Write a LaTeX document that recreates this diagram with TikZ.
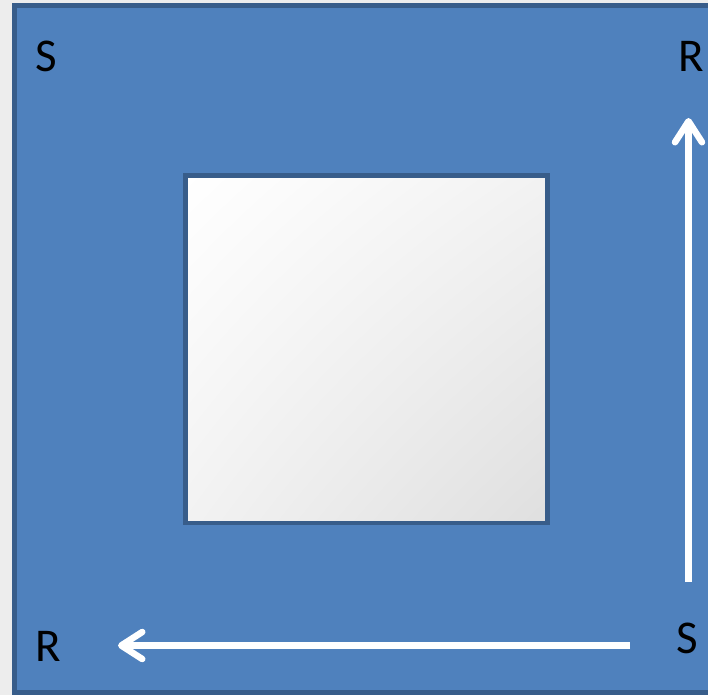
\documentclass[tikz,border=0pt]{standalone}
\usepackage{fontspec}
\setmainfont{Carlito}
\usetikzlibrary{arrows.meta, shadings}
\definecolor{slideblue}{HTML}{4F81BD}
\definecolor{slideedge}{HTML}{385D8A}
\definecolor{slidegray}{HTML}{EDEDED}

\begin{document}
\begin{tikzpicture}[x=1pt, y=-1pt, lbl/.style={inner sep=0pt, font=\fontsize{47}{50}\selectfont}, flow/.style={white, line width=6.5pt, -{Straight Barb[length=21pt, width=27pt, round]}}]
\useasboundingbox (0,0) rectangle (708,695);
\clip (0,0) rectangle (708,695);
\fill[slidegray] (0,0) rectangle (708,695);
\draw[fill=slideblue, draw=slideedge, line width=5pt] (14.5,5.5) rectangle (740,692.5);
\shade[upper left=white, upper right=gray!10, lower left=gray!10, lower right=gray!25] (185.5,175.5) rectangle (547.5,523);
\draw[slideedge, line width=4.5pt] (185.5,175.5) rectangle (547.5,523);
\node[lbl] (sTop) at (46,56) {S};
\node[lbl] (rTop) at (691,56) {R};
\node[lbl] (rBot) at (48,646) {R};
\node[lbl] (sBot) at (687.5,638.5) {S};
\coordinate (upStart) at (688.5,582);
\coordinate (upEnd) at (688.5,118);
\coordinate (leftStart) at (630,645.5);
\coordinate (leftEnd) at (118,645.5);
\draw[flow] (upStart) -- (upEnd);
\draw[flow] (leftStart) -- (leftEnd);
\end{tikzpicture}
\end{document}
